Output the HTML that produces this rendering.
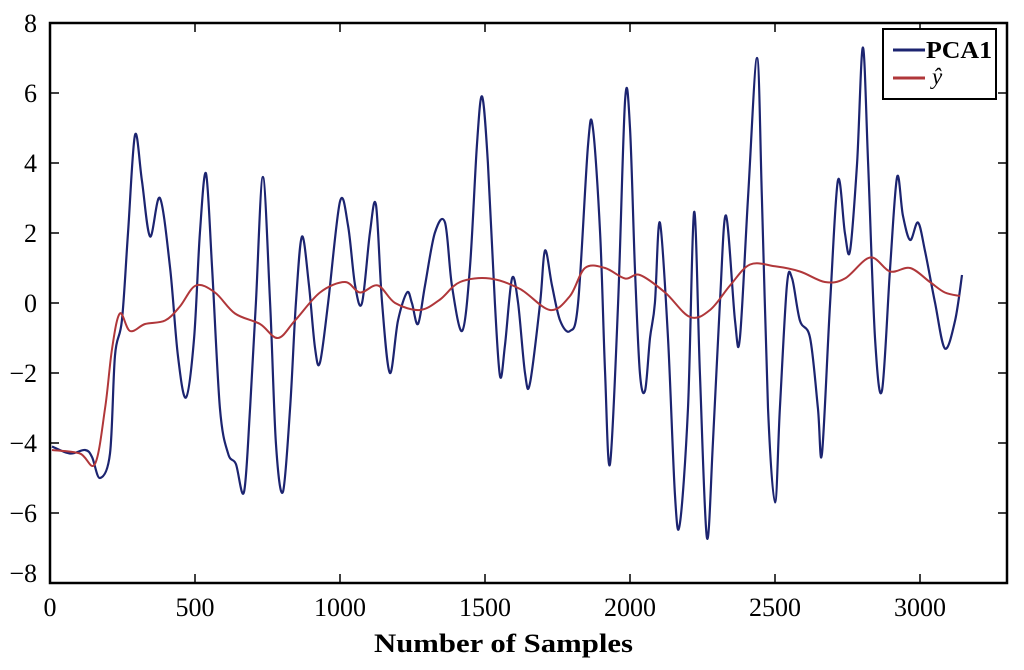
<!DOCTYPE html>
<html><head><meta charset="utf-8"><style>
body{margin:0;background:#fff;width:1024px;height:670px;overflow:hidden}
svg{display:block;font-family:"Liberation Serif",serif}
</style></head><body>
<svg id="chart" width="1024" height="670" viewBox="0 0 1024 670"></svg>
<script>
const xTicks=[0,500,1000,1500,2000,2500,3000];
const yTicks=[8,6,4,2,0,-2,-4,-6,-8];
const pcaX=[7,69,121,145,172,207,224,248,269,293,317,345,379,414,441,469,497,517,538,559,586,614,641,669,690,710,734,759,779,803,828,848,869,893,914,931,959,1000,1028,1052,1076,1103,1124,1145,1172,1200,1231,1248,1269,1293,1327,1362,1386,1421,1448,1472,1490,1510,1534,1552,1569,1593,1614,1638,1655,1690,1707,1731,1759,1793,1821,1855,1872,1897,1914,1931,1959,1983,2000,2017,2034,2052,2069,2086,2103,2131,2155,2172,2200,2221,2241,2265,2286,2310,2331,2362,2379,2407,2438,2455,2476,2500,2517,2541,2559,2586,2621,2648,2662,2690,2717,2741,2759,2783,2803,2821,2845,2869,2897,2921,2941,2966,2993,3017,3052,3086,3121,3145];
const pcaY=[-4.1,-4.3,-4.2,-4.4,-5.0,-4.3,-1.5,-0.5,2,4.8,3.5,1.9,3.0,1.0,-1.5,-2.7,-1.0,2,3.7,1,-3,-4.3,-4.6,-5.4,-3,0,3.6,0,-4,-5.4,-3,0,1.9,0.5,-1.3,-1.7,0,2.9,2.2,0.5,0,2,2.8,0,-2,-0.5,0.3,0,-0.6,0.5,2,2.3,0.5,-0.8,1,4.5,5.9,4,0,-2.1,-1.2,0.7,0,-2.0,-2.3,0,1.5,0.5,-0.5,-0.8,0,4.5,5.0,2,-2,-4.6,0,5.8,5.0,1,-2,-2.5,-1,0,2.3,-1,-5.5,-6.3,-3,2.6,-2,-6.7,-4,0,2.5,-0.5,-1.0,3,7.0,3,-3,-5.7,-3,0.5,0.7,-0.5,-1,-3,-4.3,0,3.5,2,1.5,4,7.3,4,-1,-2.5,1,3.6,2.5,1.8,2.3,1.5,0,-1.3,-0.5,0.8];
const yhatX=[7,103,155,190,214,241,276,328,397,448,503,569,638,724,786,845,931,1017,1069,1131,1190,1276,1345,1414,1517,1621,1724,1793,1845,1914,1983,2034,2121,2207,2276,2345,2414,2500,2586,2672,2741,2828,2897,2966,3034,3086,3138];
const yhatY=[-4.2,-4.3,-4.6,-3,-1.3,-0.3,-0.8,-0.6,-0.5,-0.1,0.5,0.3,-0.3,-0.6,-1.0,-0.5,0.3,0.6,0.3,0.5,0,-0.2,0.1,0.6,0.7,0.4,-0.2,0.2,1.0,1.0,0.7,0.8,0.3,-0.4,-0.2,0.5,1.1,1.05,0.9,0.6,0.7,1.3,0.9,1.0,0.6,0.3,0.2];

const L=50,R=1007,T=23,B=583,XMAX=3300,YMIN=-8,YMAX=8;
const sx=v=>L+v/XMAX*(R-L);
const sy=v=>B-(v-YMIN)/(YMAX-YMIN)*(B-T);
const svg=document.getElementById('chart');
const NS='http://www.w3.org/2000/svg';
function mk(tag,attrs,parent){const e=document.createElementNS(NS,tag);for(const k in attrs)e.setAttribute(k,attrs[k]);(parent||svg).appendChild(e);return e;}
function smooth(xs,ys){
  const p=xs.map((x,i)=>[sx(x),sy(ys[i])]);
  let d='M'+p[0][0].toFixed(1)+','+p[0][1].toFixed(1);
  for(let i=0;i<p.length-1;i++){
    const p0=p[Math.max(0,i-1)],p1=p[i],p2=p[i+1],p3=p[Math.min(p.length-1,i+2)];
    const c1=[p1[0]+(p2[0]-p0[0])/6,p1[1]+(p2[1]-p0[1])/6];
    const c2=[p2[0]-(p3[0]-p1[0])/6,p2[1]-(p3[1]-p1[1])/6];
    d+=' C'+c1.map(v=>v.toFixed(1))+' '+c2.map(v=>v.toFixed(1))+' '+p2.map(v=>v.toFixed(1));
  }
  return d;
}
const pl=mk('path',{d:smooth(pcaX,pcaY),fill:'none',stroke:'#1c2470','stroke-width':2.2});


const yl=mk('path',{d:smooth(yhatX,yhatY),fill:'none',stroke:'#b0373a','stroke-width':2});


const frame=mk('rect',{x:L,y:T,width:R-L,height:B-T,fill:'none',stroke:'#000','stroke-width':2.5});


xTicks.forEach(v=>{
  mk('line',{x1:sx(v),x2:sx(v),y1:B,y2:B-9,stroke:'#000','stroke-width':1.5});
  mk('line',{x1:sx(v),x2:sx(v),y1:T,y2:T+9,stroke:'#000','stroke-width':1.5});
  const t=mk('text',{x:sx(v),y:B+33,'text-anchor':'middle','font-size':26});
  t.textContent=v;
  
  
});
yTicks.forEach(v=>{
  mk('line',{x1:L,x2:L+9,y1:sy(v),y2:sy(v),stroke:'#000','stroke-width':1.5});
  mk('line',{x1:R,x2:R-9,y1:sy(v),y2:sy(v),stroke:'#000','stroke-width':1.5});
  const t=mk('text',{x:37,y:(v===-8?sy(v)-1:sy(v)+9),'text-anchor':'end','font-size':26});
  t.textContent=v<0?'\u2212'+(-v):v;
  
  
});
const xt=mk('text',{x:374,y:652,'font-size':26,'font-weight':'bold',textLength:259,lengthAdjust:'spacingAndGlyphs'});
xt.textContent='Number of Samples';


const lg=mk('g',{});


mk('rect',{x:883,y:29,width:113,height:70,fill:'#fff',stroke:'#000','stroke-width':2},lg);
mk('line',{x1:893,x2:925,y1:50,y2:50,stroke:'#1c2470','stroke-width':3},lg);
mk('line',{x1:893,x2:925,y1:78,y2:78,stroke:'#b0373a','stroke-width':3},lg);
const l1=mk('text',{x:926,y:58,'font-size':24,'font-weight':'bold',textLength:66,lengthAdjust:'spacingAndGlyphs'},lg);l1.textContent='PCA1';


const l2=mk('text',{x:932,y:84,'font-size':23,'font-style':'italic'},lg);l2.textContent='ŷ';


</script>
</body></html>
